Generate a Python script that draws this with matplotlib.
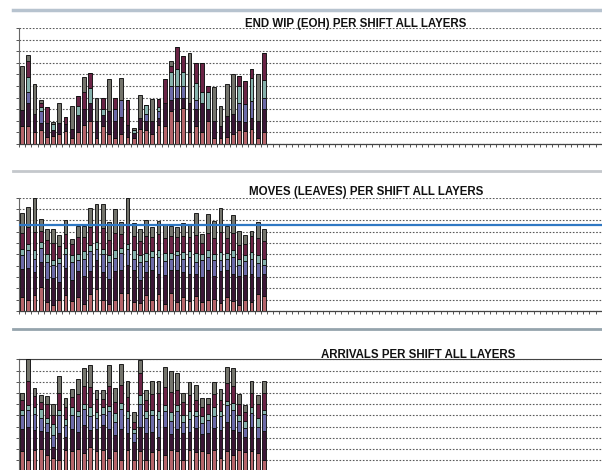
import numpy as np
import matplotlib
matplotlib.use('Agg')
import matplotlib.pyplot as plt
from matplotlib.lines import Line2D

n_shifts = 95
layers = ['L1', 'L2', 'L3', 'L4', 'L5', 'L6']
layer_colors = ['#b5646a', '#3b1736', '#6c6aa8', '#86b2ac', '#6b2446', '#74746c']

# END WIP (EOH) per shift, one list per layer
wip_l1 = [1.5, 1.5, 1.0, 1.2, 0.6, 0.7, 0.8, 1.1, 0.5, 1.0, 1.6, 2.0, 0.5, 1.5, 0.8, 0.5, 0.8, 0.6, 0.5, 1.3,
          1.2, 0.8, 1.6, 1.5, 2.8, 2.0, 3.1, 1.0, 1.5, 1.0, 2.0, 0.5, 0.5, 0.6, 0.8, 1.2, 1.1, 1.3, 0.5, 1.0]
wip_l2 = [1.4, 2.0, 1.6, 0.6, 1.2, 0.5, 1.0, 0.6, 0.8, 1.5, 1.4, 1.5, 1.5, 1.0, 2.0, 1.5, 1.5, 1.0, 0.4, 0.9,
          0.8, 1.2, 0.6, 2.0, 1.0, 2.0, 0.9, 2.5, 1.5, 2.5, 1.0, 1.5, 1.0, 1.8, 1.8, 0.8, 0.8, 0.9, 1.5, 2.0]
wip_l3 = [0, 1.0, 0, 1.0, 0, 0, 0, 0, 0, 0, 0, 0, 0, 0, 0, 1.0, 1.5, 0, 0, 0,
          0.6, 0, 0.6, 0, 1.2, 1.0, 1.0, 0, 0.8, 0, 0, 0, 0, 0, 0, 1.5, 1.5, 1.5, 0, 1.0]
wip_l4 = [0, 1.3, 0, 0.4, 0, 0.5, 0, 0, 0, 0.8, 0, 1.3, 0, 0.5, 0, 0, 0, 0, 0.3, 0,
          0.73, 0, 0.4, 0, 1.2, 1.5, 1.2, 0, 1.5, 1.0, 1.5, 0, 0, 0, 0, 1.5, 0, 2.0, 0, 1.5]
wip_l5 = [0, 1.4, 0, 0.3, 1.35, 0, 0, 0.59, 0, 0.86, 1.5, 1.3, 0, 0.99, 0, 0.99, 0, 2.19, 0, 0,
          0, 0, 0.7, 2.13, 0.5, 1.92, 1.44, 0, 1.73, 2.52, 0.52, 0, 0, 0, 0, 0.87, 2.03, 0.81, 0, 2.34]
wip_l6 = [3.8, 0.45, 2.55, 0.3, 0, 0.18, 1.75, 0, 1.99, 0, 1.25, 0, 1.99, 0, 2.83, 0, 1.92, 0, 0.15, 1.99,
          0, 1.87, 0, 0, 0.5, 0, 0, 4.34, 0, 0, 0, 2.88, 1.77, 2.77, 3.41, 0, 0, 0, 4.04, 0]

# MOVES (LEAVES) per shift
mov_l1 = [1.2, 1.0, 1.4, 2.1, 0.8, 0.5, 1.0, 1.4, 0.9, 1.2, 0.6, 1.5, 1.9, 1.0, 0.6, 1.0, 1.6, 1.6, 0.8, 0.7,
          1.4, 1.0, 1.5, 0.6, 1.6, 0.8, 1.2, 0.9, 1.3, 0.8, 1.0, 1.1, 0.7, 1.2, 0.9, 0.5, 1.0, 0.8, 1.5, 1.3]
mov_l2 = [2.5, 2.8, 2.0, 2.2, 2.0, 2.4, 1.6, 2.4, 1.8, 2.3, 2.5, 2.0, 2.6, 2.4, 2.2, 2.5, 2.0, 2.5, 2.8, 2.0,
          2.0, 2.6, 1.8, 2.6, 2.0, 2.8, 2.2, 2.4, 2.0, 2.2, 2.6, 2.0, 2.8, 2.4, 2.4, 2.6, 2.2, 2.5, 1.5, 2.0]
mov_l3 = [1.2, 1.6, 1.2, 1.3, 1.5, 1.2, 1.6, 1.2, 1.6, 1.0, 1.5, 1.8, 1.0, 1.6, 1.5, 1.2, 1.5, 1.4, 1.0, 1.6,
          1.0, 1.2, 1.5, 1.2, 1.0, 1.3, 1.2, 1.5, 1.0, 1.5, 1.2, 1.4, 1.0, 1.0, 1.5, 1.0, 1.2, 1.3, 1.2, 0.8]
mov_l4 = [0.6, 0.5, 0.8, 0.5, 0.7, 0.4, 0.5, 0.6, 0.6, 0.5, 0.7, 0.5, 0.6, 0.5, 0.6, 0.7, 0.5, 0.4, 0.8, 0.6,
          0.7, 0.5, 0.6, 0.7, 0.5, 0.4, 0.6, 0.5, 0.8, 0.5, 0.6, 0.5, 0.7, 0.5, 0.6, 0.5, 0.5, 0.6, 0.7, 0.5]
mov_l5 = [1.4, 1.5, 1.6, 1.0, 1.3, 1.5, 1.0, 1.2, 1.0, 1.5, 1.2, 1.6, 1.5, 1.8, 1.4, 1.5, 1.2, 1.7, 1.2, 1.3,
          1.5, 1.2, 1.4, 1.3, 1.5, 1.2, 1.4, 1.2, 1.6, 1.0, 1.5, 1.4, 1.8, 1.3, 1.5, 1.2, 1.0, 1.4, 1.5, 1.6]
mov_l6 = [1.72, 1.8, 2.94, 1.02, 0.97, 1.27, 1.0, 1.2, 0.45, 1.0, 1.0, 1.69, 1.81, 2.11, 1.58, 2.1, 1.08, 2.34, 1.14, 1.01,
          1.43, 0.94, 1.17, 1.31, 0.87, 0.94, 1.14, 1.21, 1.92, 0.8, 1.63, 1.57, 2.06, 1.1, 1.6, 1.23, 0.84, 0.43, 1.43, 1.04]
moves_target = 7.6

# ARRIVALS per shift
arr_l1 = [1.8, 1.0, 1.9, 2.0, 1.5, 1.2, 1.0, 1.9, 1.8, 2.0, 1.6, 2.2, 1.8, 1.9, 1.2, 1.8, 1.0, 1.9, 1.0, 1.8,
          1.0, 1.7, 1.9, 1.5, 1.9, 1.8, 1.0, 1.9, 1.7, 1.8, 1.6, 1.9, 1.2, 1.8, 1.5, 1.9, 1.7, 1.8, 1.6, 1.0]
arr_l2 = [2.0, 3.0, 1.8, 1.6, 2.0, 1.0, 2.4, 1.2, 2.0, 1.5, 2.5, 1.5, 2.0, 2.2, 2.6, 1.4, 2.8, 1.5, 1.6, 2.2,
          2.4, 1.8, 1.2, 2.5, 1.4, 2.0, 2.4, 1.6, 2.2, 1.5, 1.8, 2.0, 2.5, 2.6, 2.2, 1.6, 1.4, 2.2, 1.4, 2.6]
arr_l3 = [1.2, 1.5, 1.4, 1.2, 0.8, 1.0, 1.6, 1.0, 1.2, 1.4, 1.5, 1.2, 1.0, 1.0, 1.6, 1.2, 1.8, 1.4, 0.8, 2.0,
          1.4, 1.5, 1.6, 1.4, 1.2, 1.6, 1.0, 1.2, 1.0, 1.0, 1.2, 1.0, 1.2, 1.5, 1.8, 1.0, 0.8, 1.2, 1.0, 1.5]
arr_l4 = [0.5, 0.4, 0.6, 0.8, 0.5, 1.0, 0.5, 0.6, 0.7, 0.5, 0.4, 0.8, 0.5, 0.6, 0.4, 0.8, 0.5, 0.6, 0.4, 0.8,
          0.6, 0.5, 0.7, 0.5, 0.8, 0.5, 0.6, 0.7, 0.5, 0.6, 0.5, 0.8, 0.5, 0.4, 0.6, 0.5, 0.6, 0.5, 0.8, 0.4]
arr_l5 = [0.9, 2.2, 1.0, 0.6, 1.2, 0.8, 1.5, 1.0, 0.9, 1.5, 1.6, 1.8, 1.2, 0.8, 1.8, 1.0, 1.6, 1.2, 0.6, 2.0,
          1.0, 1.4, 1.6, 1.6, 1.8, 1.4, 1.2, 1.4, 1.0, 0.8, 0.9, 1.2, 1.0, 1.6, 1.5, 1.0, 0.8, 1.3, 1.2, 1.5]
arr_l6 = [0.6, 1.9, 0.77, 0.59, 0.69, 1.05, 1.51, 0.88, 0.76, 1.36, 1.58, 1.97, 0.78, 0.78, 1.87, 1.28, 1.86, 1.42, 0.9, 1.15,
          0.84, 1.14, 1.07, 1.82, 1.89, 1.48, 0.83, 1.18, 1.32, 0.86, 0.56, 1.05, 0.99, 1.45, 1.63, 0.94, 0.66, 1.04, 0.77, 1.04]


fig = plt.figure(figsize=(6.02, 4.70), dpi=100)
fig.patch.set_facecolor('white')

W, H = 602.0, 470.0
def px_axes(x0, top, bottom, width_px):
    return fig.add_axes([x0 / W, 1 - bottom / H, width_px / W, (bottom - top) / H])

def panel(ax, series, title, tx, ty, top_spine=False):
    x = np.arange(len(series[0]))
    base = np.zeros(len(x))
    for vals, col in zip(series, layer_colors):
        vals = np.array(vals, dtype=float)
        ax.bar(x, vals, width=0.6, bottom=base, color=col,
               edgecolor='#111111', linewidth=0.65, zorder=3)
        base += vals
    ax.set_xlim(-0.5, n_shifts - 0.5)
    ax.set_ylim(0, 10)
    ax.set_yticks(np.arange(0, 11, 1))
    ax.set_xticks(np.arange(-0.5, n_shifts, 1))
    ax.set_xticklabels([])
    ax.set_yticklabels([])
    ax.tick_params(axis='x', length=2, width=0.7, color='#555555', direction='out')
    ax.tick_params(axis='y', length=2, width=0.7, color='#555555', direction='out')
    ax.grid(axis='y', color='#5a5a5a', linestyle=(0, (1.5, 1.5)), linewidth=0.8, zorder=1)
    ax.spines['right'].set_visible(False)
    ax.spines['top'].set_visible(top_spine)
    ax.spines['top'].set_color('#444444')
    ax.spines['left'].set_color('#666666')
    ax.spines['bottom'].set_color('#444444')
    ax.spines['left'].set_linewidth(0.8)
    ax.spines['bottom'].set_linewidth(0.9)
    ax.set_facecolor('white')
    fig.text(tx / W, 1 - ty / H, title, ha='center', va='center',
             fontsize=8.3, fontweight='bold', family='Liberation Sans', color='#111111')

axw = n_shifts * 6.2

ax1 = px_axes(19, 28.3, 143.7, axw)
panel(ax1, [wip_l1, wip_l2, wip_l3, wip_l4, wip_l5, wip_l6],
      'END WIP (EOH) PER SHIFT ALL LAYERS', 356, 23.5)

ax2 = px_axes(19, 197.7, 311, axw)
panel(ax2, [mov_l1, mov_l2, mov_l3, mov_l4, mov_l5, mov_l6],
      'MOVES (LEAVES) PER SHIFT ALL LAYERS', 366, 192)
ax2.axhline(moves_target, color='#2f78c4', linewidth=1.6, zorder=4)

ax3 = px_axes(19, 359.3, 471.3, axw)
panel(ax3, [arr_l1, arr_l2, arr_l3, arr_l4, arr_l5, arr_l6],
      'ARRIVALS PER SHIFT ALL LAYERS', 418, 354.5, top_spine=True)

# separators between the report sections
fig.add_artist(Line2D([13 / W, 1], [1 - 9.5 / H] * 2, color='#b7c3cf', linewidth=2.5))
fig.add_artist(Line2D([13 / W, 1], [1 - 171 / H] * 2, color='#c4c8cc', linewidth=2.0))
fig.add_artist(Line2D([13 / W, 1], [1 - 329 / H] * 2, color='#95a4ad', linewidth=2.0))

fig.savefig('out.png', dpi=100, facecolor='white')
